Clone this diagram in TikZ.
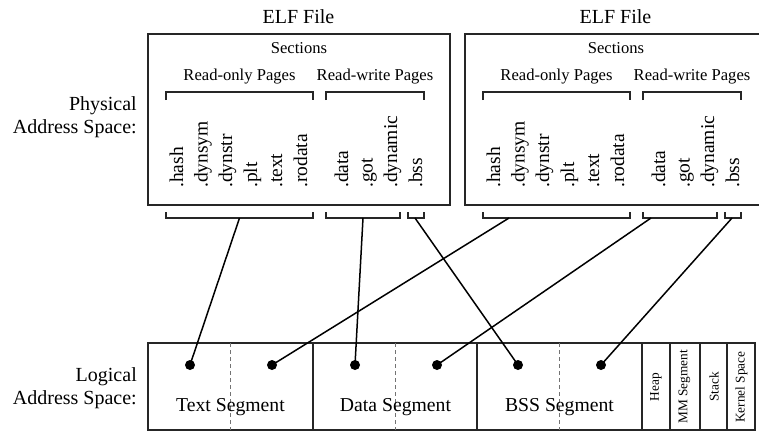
\documentclass[tikz,border=0pt]{standalone}
\usepackage{fontspec}
\setmainfont{Liberation Serif}
\begin{document}
\begin{tikzpicture}[x=1pt,y=-1pt,
  frame/.style={draw=black!85,line width=1.3pt,inner sep=0pt,outer sep=0pt,anchor=north west},
  bracketline/.style={draw=black!85,line width=1.3pt},
  link/.style={draw=black,line width=1.5pt},
  divider/.style={draw=black!55,line width=0.8pt,dash pattern=on 4pt off 3pt},
  dot/.style={circle,fill=black,inner sep=0pt,minimum size=10pt},
  big/.style={inner sep=0pt,font=\fontsize{20}{23}\selectfont},
  mid/.style={inner sep=0pt,anchor=base,font=\fontsize{16.6}{20}\selectfont},
  seclabel/.style={rotate=90,anchor=base west,inner sep=0pt,font=\fontsize{19.5}{20}\selectfont},
  seglabel/.style={inner sep=0pt,anchor=base,font=\fontsize{19.7}{22}\selectfont},
  small/.style={rotate=90,inner sep=0pt,font=\fontsize{13.3}{15}\selectfont}
]
\useasboundingbox (0,0) rectangle (759,432);
\clip (0,0) rectangle (759,432);

% side captions
\node[big,anchor=east,align=right] (phys) at (137,117) {Physical\\Address Space:};
\node[big,anchor=east,align=right] (logi) at (137,388) {Logical\\Address Space:};

% two ELF files, identical layout, shifted horizontally
\foreach \f/\dx in {A/0,B/317}{
  \begin{scope}[xshift=\dx pt]
    \node[big,anchor=base] (elf\f) at (298.5,23.5) {ELF File};
    \node[frame,minimum width=302pt,minimum height=171pt] (box\f) at (148,34) {};
    \node[mid] (sect\f) at (299,53) {Sections};
    \node[mid] (ro\f) at (239.5,80.5) {Read-only Pages};
    \node[mid] (rw\f) at (375,80.5) {Read-write Pages};
    % brackets above the section names
    \draw[bracketline] (166,100) -- (166,92) -- (313,92) -- (313,100);
    \draw[bracketline] (326,100) -- (326,92) -- (424,92) -- (424,100);
    % brackets below the box
    \draw[bracketline] (166,212) -- (166,218) -- (313,218) -- (313,212);
    \draw[bracketline] (326,212) -- (326,218) -- (400,218) -- (400,212);
    \draw[bracketline] (408,212) -- (408,218) -- (424,218) -- (424,212);
    % section names
    \foreach \n/\x/\t in {hash/183/.hash,dynsym/207.5/.dynsym,dynstr/232/.dynstr,
        plt/257/.plt,text/282/.text,rodata/307/.rodata,
        data/348/.data,got/372.5/.got,dynamic/397/.dynamic,bss/422/.bss}{
      \node[seclabel] (\n\f) at (\x,188) {\t};
    }
  \end{scope}
}

% connector start points on the lower brackets
\coordinate (roA) at (239.5,218);
\coordinate (dataA) at (363,218);
\coordinate (bssA) at (415,218);
\coordinate (roB) at (509,218);
\coordinate (dataB) at (651,218);
\coordinate (bssB) at (732,218);

% logical address space
\node[frame,minimum width=165pt,minimum height=87pt] (textseg) at (148,343) {};
\node[frame,minimum width=164pt,minimum height=87pt] (dataseg) at (313,343) {};
\node[frame,minimum width=165pt,minimum height=87pt] (bssseg) at (477,343) {};
\node[frame,minimum width=28pt,minimum height=87pt] (heap) at (642,343) {};
\node[frame,minimum width=30pt,minimum height=87pt] (mmseg) at (670,343) {};
\node[frame,minimum width=27pt,minimum height=87pt] (stack) at (700,343) {};
\node[frame,minimum width=28pt,minimum height=87pt] (kernel) at (727,343) {};

\draw[divider] (textseg.north) -- (textseg.south);
\draw[divider] (dataseg.north) -- (dataseg.south);
\draw[divider] (bssseg.north) -- (bssseg.south);

\node[seglabel] (textlbl) at (230.5,411) {Text Segment};
\node[seglabel] (datalbl) at (395.5,411) {Data Segment};
\node[seglabel] (bsslbl) at (559.5,411) {BSS Segment};

\node[small] (heaplbl) at (656,387) {Heap};
\node[small] (mmlbl) at (684.5,387) {MM Segment};
\node[small] (stacklbl) at (714,387) {Stack};
\node[small] (kernellbl) at (741.5,387) {Kernel Space};

% mapping points
\node[dot] (t1) at (190,365) {};
\node[dot] (t2) at (272,365) {};
\node[dot] (d1) at (355,365) {};
\node[dot] (d2) at (437,365) {};
\node[dot] (b1) at (518,365) {};
\node[dot] (b2) at (601,365) {};

% mappings from file sections to segments
\draw[link] (roA) -- (t1.center);
\draw[link] (dataA) -- (d1.center);
\draw[link] (bssA) -- (b1.center);
\draw[link] (roB) -- (t2.center);
\draw[link] (dataB) -- (d2.center);
\draw[link] (bssB) -- (b2.center);
\end{tikzpicture}
\end{document}
